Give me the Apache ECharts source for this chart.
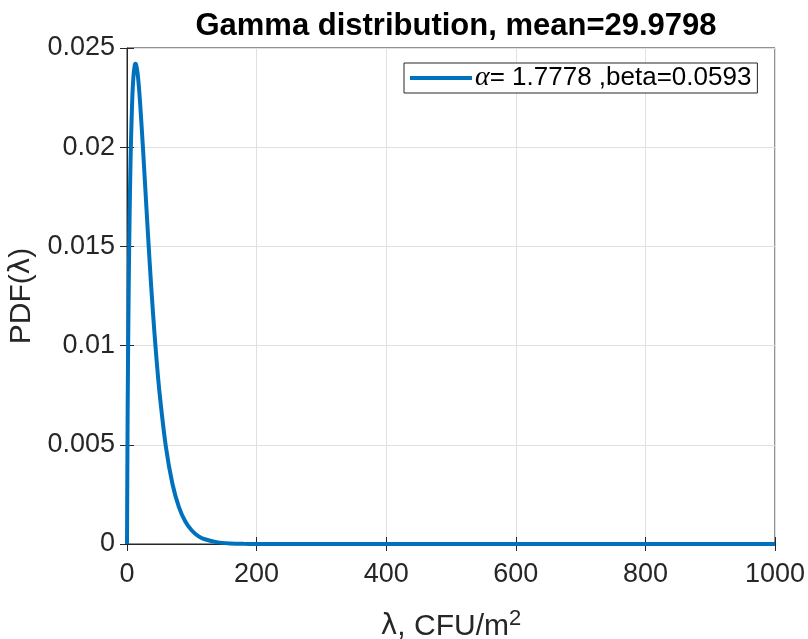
<!DOCTYPE html>
<html>
<head>
<meta charset="utf-8">
<script src="https://cdn.jsdelivr.net/npm/echarts@6/dist/echarts.min.js"></script>
<style>
  html, body { margin: 0; padding: 0; background: #fff; }
  #chart { width: 808px; height: 639px; }
</style>
</head>
<body>
<div id="chart"></div>
<script>
// Gamma PDF sampled along lambda (CFU/m^2)
const lambdaValues = [0, 1, 2, 3, 4, 5, 6, 8, 10, 12, 13, 14, 16, 18, 20, 25, 30, 35, 40, 45, 50, 60, 70, 80, 90, 100, 110, 120, 140, 160, 180, 200, 300, 400, 500, 600, 700, 800, 900, 1000];
const pdfValues = [0, 0.00671, 0.01083, 0.01400, 0.01650, 0.01850, 0.02009, 0.02232, 0.02358, 0.02414, 0.02421, 0.02417, 0.02381, 0.02318, 0.02234, 0.01976, 0.01693, 0.01418, 0.01170, 0.00954, 0.00769, 0.00490, 0.00305, 0.00187, 0.00113, 0.00068, 0.00040, 0.00024, 0.000082, 0.000027, 0.000009, 0.000003, 0, 0, 0, 0, 0, 0, 0, 0];

const xTicks = ['0', '200', '400', '600', '800', '1000'];
const yTicks = ['0', '0.005', '0.01', '0.015', '0.02', '0.025'];

const titleText = 'Gamma distribution, mean=29.9798';
const seriesName = 'alpha';
const legendLabel = '{g|α}= 1.7778 ,beta=0.0593';

const ink = '#262626';
const gridColor = '#e0e0e0';
const font = 'Liberation Sans, Arial, sans-serif';

const chart = echarts.init(document.getElementById('chart'), null, { renderer: 'canvas' });

const points = lambdaValues.map((x, i) => [x, pdfValues[i]]);

const xFmt = v => {
  const idx = Math.round(v / 200);
  return xTicks[idx] !== undefined ? xTicks[idx] : '';
};
const yFmt = v => {
  const idx = Math.round(v / 0.005);
  return yTicks[idx] !== undefined ? yTicks[idx] : '';
};

const sideAxis = {
  axisLine: { show: false },
  axisTick: { show: true, inside: true, length: 7, lineStyle: { color: ink, width: 1 } },
  axisLabel: { show: false },
  splitLine: { show: false }
};

chart.setOption({
  animation: false,
  backgroundColor: '#fff',
  title: {
    text: titleText,
    left: 451,
    textAlign: 'center',
    top: 6,
    textStyle: { fontFamily: font, fontWeight: 'bold', fontSize: 31, color: '#000' }
  },
  grid: {
    left: 127, right: 33, top: 48, bottom: 95,
    containLabel: false,
    outerBoundsMode: 'none',
    show: true, borderColor: ink, borderWidth: 1, backgroundColor: '#fff'
  },
  legend: {
    data: [seriesName],
    left: 404, top: 63,
    icon: 'rect',
    itemWidth: 62, itemHeight: 4,
    itemGap: 0,
    padding: [1, 6, 1, 6],
    borderColor: ink, borderWidth: 1, backgroundColor: '#fff',
    formatter: () => legendLabel,
    textStyle: {
      fontFamily: font, fontSize: 26, color: '#000', padding: [0, 0, 0, -2],
      rich: {
        g: { fontFamily: 'Liberation Serif, serif', fontStyle: 'italic', fontSize: 28, color: '#000' }
      }
    }
  },
  xAxis: [{
    type: 'value', min: 0, max: 1000, interval: 200,
    position: 'bottom',
    name: '{l|λ}, CFU/m{s|2}',
    nameLocation: 'middle', nameGap: 64,
    nameTextStyle: {
      fontFamily: font, fontSize: 30, color: ink,
      rich: {
        l: { fontFamily: 'DejaVu Sans, sans-serif', fontSize: 28, color: ink },
        s: { fontFamily: font, fontSize: 22, color: ink, verticalAlign: 'top', padding: [0, 0, 15, 0] }
      }
    },
    axisLine: { show: true, onZero: false, lineStyle: { color: ink, width: 1 } },
    axisTick: { show: true, inside: true, length: 7, lineStyle: { color: ink } },
    axisLabel: { fontFamily: font, fontSize: 27, color: ink, margin: 17, formatter: xFmt },
    splitLine: { show: true, lineStyle: { color: gridColor, width: 1 } }
  }, Object.assign({ type: 'value', min: 0, max: 1000, interval: 200, position: 'top' }, sideAxis)],
  yAxis: [{
    type: 'value', min: 0, max: 0.025, interval: 0.005,
    position: 'left',
    name: 'PDF({l|λ})',
    nameLocation: 'middle', nameGap: 88,
    nameTextStyle: {
      fontFamily: font, fontSize: 30, color: ink,
      rich: { l: { fontFamily: 'DejaVu Sans, sans-serif', fontSize: 28, color: ink } }
    },
    axisLine: { show: true, onZero: false, lineStyle: { color: ink, width: 1 } },
    axisTick: { show: true, inside: true, length: 7, lineStyle: { color: ink } },
    axisLabel: { fontFamily: font, fontSize: 27, color: ink, margin: 12, formatter: yFmt },
    splitLine: { show: true, lineStyle: { color: gridColor, width: 1 } }
  }, Object.assign({ type: 'value', min: 0, max: 0.025, interval: 0.005, position: 'right' }, sideAxis)],
  series: [{
    name: seriesName,
    type: 'line',
    data: points,
    xAxisIndex: 0, yAxisIndex: 0,
    showSymbol: false,
    smooth: 0.3,
    lineStyle: { color: '#0072BD', width: 4 },
    itemStyle: { color: '#0072BD' },
    clip: true,
    z: 3
  }]
});
</script>
</body>
</html>
